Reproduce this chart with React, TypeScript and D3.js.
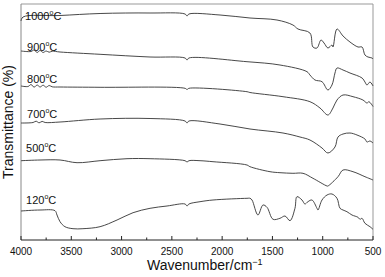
import React from "react";
import * as d3 from "d3";

const W = 385;
const H = 277;

// x ticks
const majorTicks = [4000, 3500, 3000, 2500, 2000, 1500, 1000, 500];
const minorTicks = [3750, 3250, 2750, 2250, 1750, 1250, 750];

// series: wavenumber (cm-1) and offset transmittance values
const wn1000 = [4000, 3980, 3612, 3214, 2717, 2369, 2349, 2330, 2021, 1723, 1455, 1296, 1246, 1127, 1097, 1057, 1017, 987, 948, 908, 898, 858, 798, 729, 649, 609, 580, 550, 510, 500];
const t1000 = [219, 223, 224.5, 226.5, 227, 226, 224, 226, 225, 222, 220, 215, 211, 207, 193, 192, 200, 197, 192, 195, 193, 211, 204, 198, 193, 193, 185, 183, 182, 181];

const wn900 = [4000, 3900, 3870, 3840, 3810, 3780, 3750, 3720, 3690, 3612, 3214, 2717, 2369, 2349, 2330, 1753, 1425, 1156, 1127, 1077, 1007, 948, 908, 878, 858, 798, 729, 609, 580, 560, 530, 500];
const t900 = [189, 188.5, 190, 187.5, 189.5, 187.5, 189, 187.8, 188.8, 188, 185.7, 183, 182, 180, 182, 178.3, 175, 168.3, 165, 160, 158.3, 150, 155, 167, 172, 170, 167, 162, 158, 155, 158, 154];

const wn800 = [4000, 3930, 3900, 3870, 3840, 3810, 3780, 3750, 3720, 3690, 3612, 3214, 2369, 2349, 2330, 1753, 1723, 1395, 1127, 1027, 948, 898, 858, 798, 699, 600, 560, 540, 500];
const t800 = [154, 153.5, 155.5, 152.8, 155, 153, 154.8, 152.8, 154.5, 153.2, 153, 152.7, 151.7, 150.5, 151.7, 148.3, 147.5, 143.3, 138.3, 132, 125, 132, 140, 145, 143.3, 140, 137, 138.3, 133.5];

const wn700 = [4000, 3880, 3850, 3820, 3790, 3760, 3612, 3214, 2717, 2369, 2349, 2330, 2021, 1723, 1395, 1226, 1127, 1007, 948, 878, 848, 798, 729, 659, 580, 560, 530, 500];
const t700 = [117, 117.5, 118.8, 117.2, 118.6, 117.5, 118, 121, 121.5, 119, 117, 119, 116, 111, 107, 103, 100, 92, 87, 93, 103, 106, 107, 105, 101, 98, 99, 97];

const wn500 = [4000, 3811, 3612, 3443, 3214, 2946, 2717, 2369, 2349, 2330, 2220, 2091, 1753, 1723, 1524, 1425, 1296, 1196, 1097, 957, 948, 848, 798, 699, 580, 500];
const t500 = [79.3, 80, 80, 77.3, 79.3, 81.3, 81.3, 79.3, 78, 79.3, 79.3, 78.3, 75, 73.3, 68.3, 67.3, 66.7, 66.7, 61.7, 54, 54, 63.3, 70, 68.3, 63.3, 60];

const wn120 = [4000, 3811, 3662, 3642, 3612, 3563, 3483, 3384, 3214, 3045, 2886, 2717, 2548, 2369, 2349, 2330, 2220, 2091, 1753, 1723, 1703, 1644, 1594, 1554, 1494, 1425, 1375, 1325, 1276, 1256, 1206, 1177, 1147, 1107, 1057, 1047, 1007, 957, 908, 858, 828, 798, 759, 709, 649, 629, 609, 580, 530, 500];
const t120 = [29, 30, 29.3, 25, 18.3, 13.3, 11.3, 11.3, 13.3, 20, 27.3, 31.7, 34, 36, 34, 36, 38.3, 40, 41.7, 41.7, 40, 25, 35, 32.7, 20.7, 21.7, 24, 19.3, 31.7, 43.3, 40, 36, 38.3, 40, 31.7, 30, 40, 45, 46, 41.7, 31.7, 30, 28.3, 25, 22.7, 20.7, 21.7, 16.7, 13.3, 10.7];

const seriesNames = ["1000", "900", "800", "700", "500", "120"];
const seriesWn = [wn1000, wn900, wn800, wn700, wn500, wn120];
const seriesT = [t1000, t900, t800, t700, t500, t120];
// label baseline values (same units as series)
const labelVals = [220.5, 189, 157, 122.5, 88, 36.5];
const labelWn = [3960, 3940, 3940, 3940, 3950, 3950];

const FONT = "'Liberation Sans', Arial, Helvetica, sans-serif";

export default function App() {
  const left = 21, right = 373, top = 4, bottom = 240;
  const x = d3.scaleLinear().domain([4000, 500]).range([left, right]);
  const y = d3.scaleLinear().domain([0, 236]).range([bottom, top]);

  const line = d3
    .line<[number, number]>()
    .x((d) => x(d[0]))
    .y((d) => y(d[1]))
    .curve(d3.curveCatmullRom.alpha(0.5));

  return (
    <svg
      width={W}
      height={H}
      style={{ position: "fixed", left: 0, top: 0, background: "#fff" }}
      fontFamily={FONT}
    >
      <rect x={0} y={0} width={W} height={H} fill="#fff" />
      {/* frame */}
      <line x1={left} y1={top} x2={right} y2={top} stroke="#999" strokeWidth={1} />
      <line x1={right} y1={top} x2={right} y2={bottom} stroke="#999" strokeWidth={1} />
      <line x1={left} y1={top} x2={left} y2={bottom} stroke="#888" strokeWidth={1} />
      <line x1={left} y1={bottom} x2={right} y2={bottom} stroke="#222" strokeWidth={1} />
      {majorTicks.map((t) => (
        <g key={"M" + t}>
          <line x1={x(t)} x2={x(t)} y1={bottom} y2={bottom - 4} stroke="#222" strokeWidth={1} />
          <text x={x(t)} y={255} fontSize={10} textAnchor="middle" fill="#111">
            {t}
          </text>
        </g>
      ))}
      {minorTicks.map((t) => (
        <line key={"m" + t} x1={x(t)} x2={x(t)} y1={bottom} y2={bottom - 2.5} stroke="#222" strokeWidth={1} />
      ))}
      {/* spectra */}
      {seriesNames.map((n, i) => {
        const pts = seriesWn[i].map((w, j) => [w, seriesT[i][j]] as [number, number]);
        return (
          <path key={n} d={line(pts) || ""} fill="none" stroke="#333" strokeWidth={0.9} />
        );
      })}
      {/* labels */}
      {seriesNames.map((n, i) => (
        <text key={"l" + n} x={x(labelWn[i])} y={y(labelVals[i])} fontSize={11} fill="#111">
          {n}
          <tspan fontSize={7} dy={-5}>o</tspan>
          <tspan dy={5}>C</tspan>
        </text>
      ))}
      {/* axis titles */}
      <text x={147} y={270} fontSize={14} fill="#111">
        Wavenumber/cm
        <tspan fontSize={9} dy={-5}>−1</tspan>
      </text>
      <text
        transform={`translate(13,122) rotate(-90)`}
        fontSize={14}
        textAnchor="middle"
        fill="#111"
      >
        Transmittance (%)
      </text>
    </svg>
  );
}
